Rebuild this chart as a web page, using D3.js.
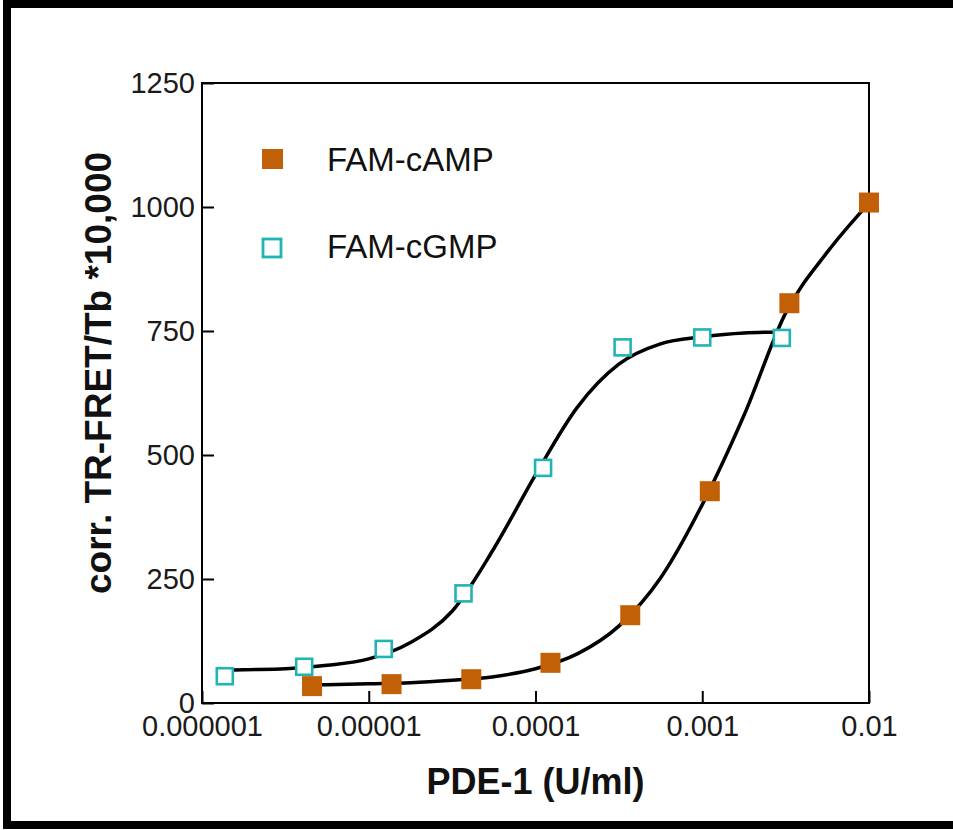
<!DOCTYPE html>
<html>
<head>
<meta charset="utf-8">
<script src="https://cdn.jsdelivr.net/npm/d3@7"></script>
<style>
  body { margin: 0; background: #fff; }
  svg { display: block; font-family: "Liberation Sans", Arial, sans-serif; }
</style>
</head>
<body>
<script>
// measured points (PDE-1 in U/ml, signal)
var seriesNames = ["FAM-cAMP", "FAM-cGMP"];
var campConc = [0.00000457, 0.0000137, 0.0000412, 0.000123, 0.00037, 0.00111, 0.00333, 0.01];
var campVals = [34, 38, 48, 81, 177, 427, 806, 1009];
var cgmpConc = [0.00000137, 0.0000041, 0.0000123, 0.000037, 0.000111, 0.000333, 0.001, 0.003];
var cgmpVals = [54, 73, 109, 221, 474, 717, 737, 736];

// fitted curves
var campFitConc = [0.00000457, 0.00000562, 0.00001, 0.0000178, 0.0000316, 0.0000562, 0.0001, 0.000178, 0.000316, 0.000562, 0.001, 0.00178, 0.00316, 0.00562, 0.01];
var campFitVals = [36, 37, 39, 41, 46, 53, 69, 99, 155, 252, 400, 580, 786, 909, 1008];
var cgmpFitConc = [0.00000137, 0.00000178, 0.00000316, 0.00000562, 0.00001, 0.0000178, 0.0000316, 0.0000562, 0.0001, 0.000178, 0.000316, 0.000562, 0.001, 0.00178, 0.003];
var cgmpFitVals = [66, 67, 69, 76, 89, 122, 185, 311, 460, 596, 683, 724, 738, 746, 748];

var xTicks = [0.000001, 0.00001, 0.0001, 0.001, 0.01];
var xTickLabels = ["0.000001", "0.00001", "0.0001", "0.001", "0.01"];
var yTicks = [0, 250, 500, 750, 1000, 1250];

var width = 953, height = 830;
var orange = "#c26007", teal = "#22b4b4";

var svg = d3.select("body").append("svg")
    .attr("width", width)
    .attr("height", height);

// outer frame
svg.append("rect")
    .attr("x", 7).attr("y", 4)
    .attr("width", 960).attr("height", 821)
    .attr("fill", "none")
    .attr("stroke", "#000")
    .attr("stroke-width", 8);

var x = d3.scaleLog().domain([0.000001, 0.01]).range([202, 869]);
var y = d3.scaleLinear().domain([0, 1250]).range([703, 83]);

var xAxis = svg.append("g")
    .attr("transform", "translate(0,703)")
    .call(d3.axisBottom(x)
        .tickValues(xTicks)
        .tickFormat(function (d, i) { return xTickLabels[i]; })
        .tickSizeInner(-12)
        .tickSizeOuter(0)
        .tickPadding(12));

var yAxis = svg.append("g")
    .attr("transform", "translate(202,0)")
    .call(d3.axisLeft(y)
        .tickValues(yTicks)
        .tickFormat(d3.format("d"))
        .tickSizeInner(-12)
        .tickSizeOuter(0)
        .tickPadding(7));

svg.selectAll(".tick line").attr("stroke", "#000").attr("stroke-width", 2);
svg.selectAll(".domain").remove();
svg.selectAll(".tick text")
    .attr("font-family", "'Liberation Sans', Arial, sans-serif")
    .attr("font-size", 29)
    .attr("fill", "#1a1a1a");

// plot box
svg.append("rect")
    .attr("x", x(0.000001)).attr("y", y(1250))
    .attr("width", x(0.01) - x(0.000001))
    .attr("height", y(0) - y(1250))
    .attr("fill", "none")
    .attr("stroke", "#000")
    .attr("stroke-width", 2);

// axis titles
svg.append("text")
    .attr("x", (x(0.000001) + x(0.01)) / 2)
    .attr("y", 794)
    .attr("text-anchor", "middle")
    .attr("font-size", 36)
    .attr("font-weight", "bold")
    .attr("fill", "#111")
    .text("PDE-1 (U/ml)");

svg.append("text")
    .attr("transform", "translate(111,373) rotate(-90)")
    .attr("text-anchor", "middle")
    .attr("font-size", 37)
    .attr("font-weight", "bold")
    .attr("fill", "#111")
    .text("corr. TR-FRET/Tb *10,000");

// fit lines
var line = d3.line()
    .x(function (d) { return x(d[0]); })
    .y(function (d) { return y(d[1]); })
    .curve(d3.curveMonotoneX);

svg.append("path")
    .datum(d3.zip(cgmpFitConc, cgmpFitVals))
    .attr("d", line)
    .attr("fill", "none")
    .attr("stroke", "#000")
    .attr("stroke-width", 3.5);

svg.append("path")
    .datum(d3.zip(campFitConc, campFitVals))
    .attr("d", line)
    .attr("fill", "none")
    .attr("stroke", "#000")
    .attr("stroke-width", 3.5);

// markers
svg.selectAll(".cgmp")
    .data(d3.zip(cgmpConc, cgmpVals))
    .enter().append("rect")
    .attr("class", "cgmp")
    .attr("x", function (d) { return x(d[0]) - 8; })
    .attr("y", function (d) { return y(d[1]) - 8; })
    .attr("width", 16).attr("height", 16)
    .attr("fill", "#fff")
    .attr("stroke", teal)
    .attr("stroke-width", 2.6);

svg.selectAll(".camp")
    .data(d3.zip(campConc, campVals))
    .enter().append("rect")
    .attr("class", "camp")
    .attr("x", function (d) { return x(d[0]) - 10; })
    .attr("y", function (d) { return y(d[1]) - 10; })
    .attr("width", 20).attr("height", 20)
    .attr("fill", orange);

// legend
var legend = svg.append("g").attr("transform", "translate(272,0)");
legend.append("rect")
    .attr("x", -10).attr("y", 149)
    .attr("width", 21).attr("height", 20)
    .attr("fill", orange);
legend.append("rect")
    .attr("x", -9).attr("y", 239)
    .attr("width", 18).attr("height", 18)
    .attr("fill", "#fff")
    .attr("stroke", teal)
    .attr("stroke-width", 2.8);
legend.selectAll("text")
    .data(seriesNames)
    .enter().append("text")
    .attr("x", 55)
    .attr("y", function (d, i) { return 171 + i * 87; })
    .attr("font-size", 33)
    .attr("fill", "#111")
    .text(String);
</script>
</body>
</html>
